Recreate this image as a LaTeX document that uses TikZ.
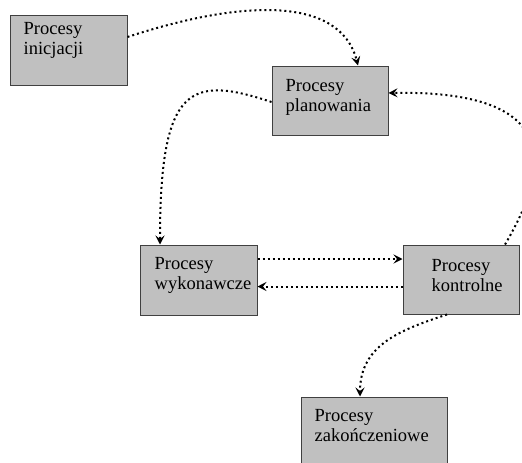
\documentclass[tikz,border=0pt]{standalone}
\usepackage{fontspec}
\setmainfont{Liberation Serif}
\usetikzlibrary{arrows.meta}
\definecolor{boxfill}{HTML}{C0C0C0}
\definecolor{boxline}{HTML}{404040}
\begin{document}
\begin{tikzpicture}[x=1pt,y=1pt,
  procbox/.style={draw=boxline, line width=1pt, fill=boxfill, inner sep=0pt,
    minimum width=116pt, minimum height=70pt},
  proclabel/.style={anchor=north west, inner sep=0pt, align=left,
    font=\fontsize{18.5}{20}\selectfont},
  flow/.style={line width=2pt, dash pattern=on 2pt off 3pt,
    -{Stealth[length=9pt,width=9pt,inset=3.5pt]}}]
\useasboundingbox (0,0) rectangle (522,-463);
\clip (0,0) rectangle (522,-463);

% process boxes
\node[procbox, minimum width=117pt] (ini) at (68.5,-50) {};
\node[procbox, minimum height=69pt] (plan) at (330,-100.5) {};
\node[procbox, minimum width=117pt] (exe) at (198.5,-280) {};
\node[procbox, minimum height=69pt] (ctl) at (461,-279.5) {};
\node[procbox, minimum width=146pt] (end) at (374,-432) {};

% box captions
\node[proclabel] (ini-t)  at ([shift={(14,-8)}]ini.north west)  {Procesy\\inicjacji};
\node[proclabel] (plan-t) at ([shift={(14,-14)}]plan.north west) {Procesy\\planowania};
\node[proclabel] (exe-t)  at ([shift={(15,-13)}]exe.north west)  {Procesy\\wykonawcze};
\node[proclabel] (ctl-t)  at ([shift={(29,-15)}]ctl.north west)  {Procesy\\kontrolne};
\node[proclabel] (end-t)  at ([shift={(14,-13)}]end.north west)  {Procesy\\zakończeniowe};

% flows between the process groups
\draw[flow] ([yshift=13pt]ini.east)
  .. controls (240,0) and (340,5) .. ([xshift=28pt]plan.north);
\draw[flow] ([yshift=-1.5pt]plan.west)
  .. controls (190,-75) and (160,-85) .. ([xshift=-38.5pt]exe.north);
\draw[flow] ([xshift=44pt]ctl.north)
  .. controls (555,-160) and (555,-90) .. ([yshift=7.5pt]plan.east);
\coordinate (fwd) at ([yshift=21pt]exe.east);
\coordinate (back) at ([yshift=-7pt]ctl.west);
\draw[flow] (fwd) -- (fwd -| ctl.west);
\draw[flow] (back) -- (back -| exe.east);
\draw[flow] ([xshift=-14pt]ctl.south)
  .. controls (400,-330) and (360,-345) .. ([xshift=-14pt]end.north);
\end{tikzpicture}
\end{document}
